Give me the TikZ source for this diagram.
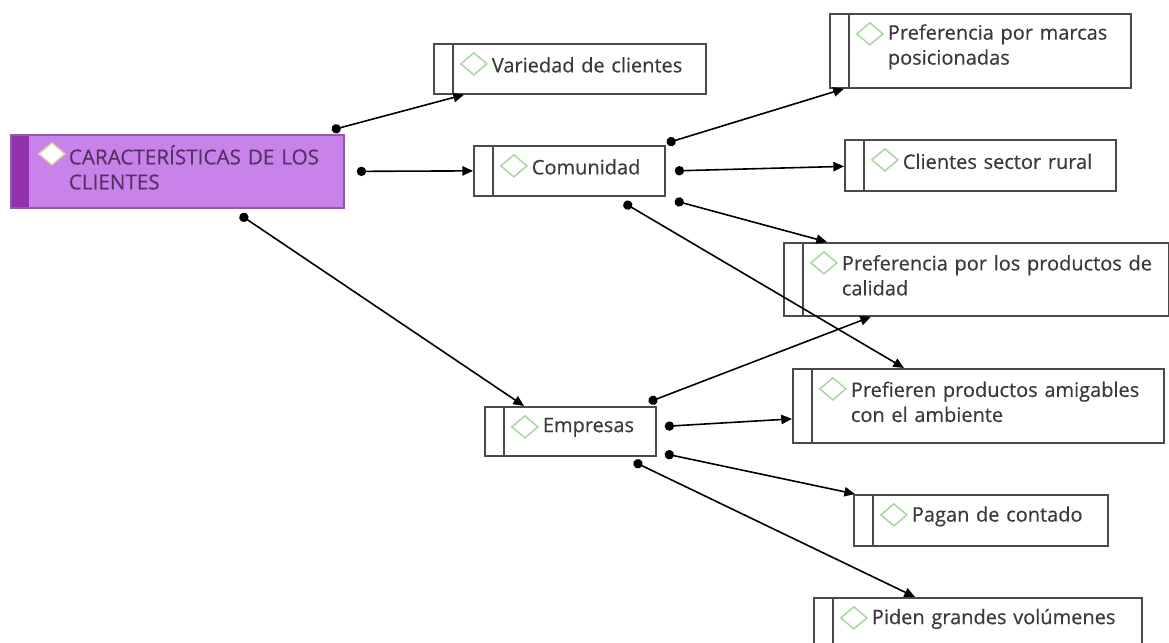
\documentclass[tikz,border=0pt]{standalone}
\usepackage{fontspec}
\newfontfamily\mapfont{Open Sans}[FakeBold=0.35]
\usetikzlibrary{calc,arrows.meta}
\definecolor{bordegris}{HTML}{4A4A4A}
\definecolor{textogris}{HTML}{3A3A3A}
\definecolor{rombogreen}{HTML}{A6D79E}
\definecolor{raizfill}{HTML}{C882EA}
\definecolor{raizbar}{HTML}{9232AE}
\definecolor{raiztext}{HTML}{553068}
\definecolor{raizrombo}{HTML}{E3D39C}

\begin{document}
\begin{tikzpicture}[x=0.75pt,y=-0.75pt,
    % common box: size given in px
    caja/.style 2 args={draw=bordegris, line width=1.3pt, fill=white, anchor=north west,
      inner xsep=0pt, inner ysep=0pt, text width=#1*0.75pt, minimum height=#2*0.75pt,
      align=left, text=textogris, font=\mapfont\fontsize{15}{18.75}\selectfont,
      execute at begin node={\leftskip=43.5pt\rightskip=0pt plus 1fil},
      execute at end node={\endgraf\vspace*{6pt}}},
    tema/.style 2 args={caja={#1}{#2},
      path picture={
        \draw[bordegris, line width=1.3pt] ($(path picture bounding box.north west)+(19,0)$)
          -- ($(path picture bounding box.south west)+(19,0)$);
        \draw[rombogreen, line width=1.1pt] ($(path picture bounding box.north west)+(40,20)$)
          +(-13,0) -- +(0,-11) -- +(13,0) -- +(0,11) -- cycle;
      }},
    raiz/.style 2 args={caja={#1}{#2}, fill=raizfill, draw=raizfill!70!black, text=raiztext,
      font=\mapfont\fontsize{15.5}{18.75}\selectfont,
      path picture={
        \fill[raizbar] (path picture bounding box.north west)
          rectangle ($(path picture bounding box.south west)+(18,0)$);
        \draw[raizrombo, fill=white, line width=1.1pt] ($(path picture bounding box.north west)+(41,19)$)
          +(-13,0) -- +(0,-11) -- +(13,0) -- +(0,11) -- cycle;
      }},
    enlace/.style={draw=black, line width=1.2pt, {Circle[length=7pt]}-{Triangle[length=8pt,width=7pt]}}
  ]
  \useasboundingbox (0,0) rectangle (1169,642);

  % boxes
  \node[raiz={333}{73}] (raiz) at (10,134) {CARACTERÍSTICAS DE LOS\\CLIENTES};
  \node[tema={272}{50}] (var) at (433,43) {Variedad de clientes};
  \node[tema={191}{50}] (com) at (473,145) {Comunidad};
  \node[tema={171}{49}] (emp) at (484,406) {Empresas};
  \node[tema={301}{74}] (marcas) at (829,13) {Preferencia por marcas\\posicionadas};
  \node[tema={271}{51}] (rural) at (844,139) {Clientes sector rural};
  \node[tema={385}{73}] (cal) at (783,242) {Preferencia por los productos de\\calidad};
  \node[tema={371}{74}] (ami) at (792,368) {Prefieren productos amigables\\con el ambiente};
  \node[tema={254}{51}] (pag) at (853,494) {Pagan de contado};
  \node[tema={328}{50}] (pid) at (813,597) {Piden grandes volúmenes};

  % connectors
  \draw[enlace] ($(raiz.north east)+(-13,-4)$) -- ($(var.south west)+(31,0)$);
  \draw[enlace] ($(raiz.east)+(12,0)$) -- (com.west);
  \draw[enlace] ($(raiz.south west)+(230,6)$) -- ($(emp.north west)+(40,0)$);
  \draw[enlace] ($(com.north east)+(1,-2)$) -- ($(marcas.south west)+(15,0)$);
  \draw[enlace] ($(com.east)+(9,0)$) -- ($(rural.west)+(0,1)$);
  \draw[enlace] ($(com.south east)+(9,4)$) -- ($(cal.north west)+(44,0)$);
  \draw[enlace] ($(com.south east)+(-42,6)$) -- ($(ami.north west)+(112,0)$);
  \draw[enlace] ($(emp.north east)+(-8,-4)$) -- ($(cal.south west)+(88,0)$);
  \draw[enlace] ($(emp.east)+(8,-5)$) -- ($(ami.west)+(0,13)$);
  \draw[enlace] ($(emp.south east)+(8,-3)$) -- ($(pag.north west)+(2,0)$);
  \draw[enlace] ($(emp.south east)+(-23,5)$) -- ($(pid.north west)+(102,0)$);
\end{tikzpicture}
\end{document}
